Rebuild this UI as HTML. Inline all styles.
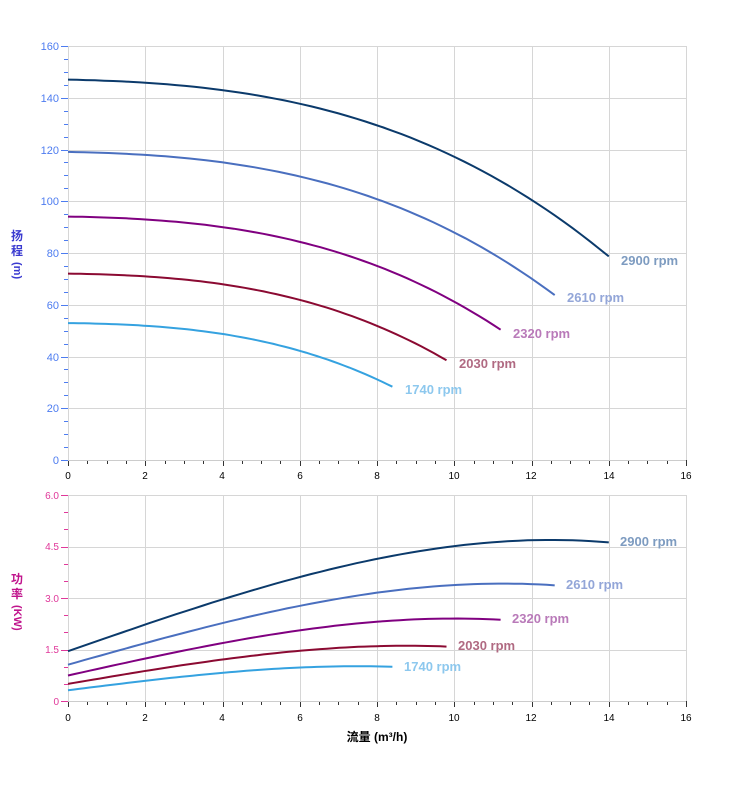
<!DOCTYPE html>
<html><head><meta charset="utf-8"><style>
body{margin:0;background:#fff;width:752px;height:797px;overflow:hidden}
svg{font-family:"Liberation Sans","Noto Sans CJK SC",sans-serif}
</style></head><body>
<svg id="s" width="752" height="797" xmlns="http://www.w3.org/2000/svg">
<g id="grid" stroke="#d6d6d6" stroke-width="1" fill="none"></g>
<g id="ticks"></g>
<g id="curves" fill="none" stroke-width="2"></g>
<g font-size="11" fill="#4d7cf0" text-anchor="end">
<text x="59" y="50">160</text><text x="59" y="102">140</text><text x="59" y="154">120</text><text x="59" y="205">100</text><text x="59" y="257">80</text><text x="59" y="309">60</text><text x="59" y="361">40</text><text x="59" y="412">20</text><text x="59" y="464">0</text>
</g>
<g font-size="10" fill="#e0389a" text-anchor="end">
<text x="59" y="499">6.0</text><text x="59" y="550">4.5</text><text x="59" y="602">3.0</text><text x="59" y="653">1.5</text><text x="59" y="705">0</text>
</g>
<g font-size="10" fill="#000" text-anchor="middle">
<text x="68" y="479">0</text><text x="145" y="479">2</text><text x="222" y="479">4</text><text x="300" y="479">6</text><text x="377" y="479">8</text><text x="454" y="479">10</text><text x="531" y="479">12</text><text x="609" y="479">14</text><text x="686" y="479">16</text>
<text x="68" y="721">0</text><text x="145" y="721">2</text><text x="222" y="721">4</text><text x="300" y="721">6</text><text x="377" y="721">8</text><text x="454" y="721">10</text><text x="531" y="721">12</text><text x="609" y="721">14</text><text x="686" y="721">16</text>
</g>
<g font-size="12" font-weight="bold" fill="#3a3ad0">
<text x="11" y="240">扬</text><text x="11" y="255">程</text>
<text transform="translate(14,262) rotate(90)" font-size="11">(m)</text>
</g>
<g font-size="12" font-weight="bold" fill="#c0148c">
<text x="11" y="583">功</text><text x="11" y="598">率</text>
<text transform="translate(14,605) rotate(90)" font-size="11">(KW)</text>
</g>
<text x="377" y="741" font-size="12" font-weight="bold" text-anchor="middle">流量 (m³/h)</text>
<g font-size="13" font-weight="bold">
<text x="621" y="265" fill="#7d9bc0">2900 rpm</text>
<text x="567" y="302" fill="#93a6d8">2610 rpm</text>
<text x="513" y="338" fill="#b97ab9">2320 rpm</text>
<text x="459" y="368" fill="#b06a82">2030 rpm</text>
<text x="405" y="394" fill="#8dc8ee">1740 rpm</text>
<text x="620" y="546" fill="#7d9bc0">2900 rpm</text>
<text x="566" y="589" fill="#93a6d8">2610 rpm</text>
<text x="512" y="623" fill="#b97ab9">2320 rpm</text>
<text x="458" y="650" fill="#b06a82">2030 rpm</text>
<text x="404" y="671" fill="#8dc8ee">1740 rpm</text>
</g>
</svg>
<script>
var X=q=>68+q*38.625, YT=h=>460-h*2.5875, YB=p=>701-p*34.333;
var g=document.getElementById('grid'),t=document.getElementById('ticks'),c=document.getElementById('curves');
var ns='http://www.w3.org/2000/svg';
function L(p,x1,y1,x2,y2,col,w){var e=document.createElementNS(ns,'line');e.setAttribute('x1',x1);e.setAttribute('y1',y1);e.setAttribute('x2',x2);e.setAttribute('y2',y2);if(col)e.setAttribute('stroke',col);e.setAttribute('stroke-width',w||1);p.appendChild(e);}
for(var i=0;i<=8;i++){var x=Math.round(X(2*i))+.5;L(g,x,46,x,460);L(g,x,495,x,701);}
for(var i=0;i<=8;i++){var y=Math.round(YT(20*i))+.5;L(g,68,y,686,y);}
for(var i=0;i<=4;i++){var y=Math.round(YB(1.5*i))+.5;L(g,68,y,686,y);}
for(var i=0;i<=32;i++){var x=Math.round(X(i/2))+.5,m=i%4==0;L(t,x,460,x,m?466:464,'#333');L(t,x,701,x,m?707:705,'#333');}
for(var i=0;i<=32;i++){var y=Math.round(YT(5*i))+.5;L(t,i%4==0?61:64,y,68,y,'#4d7cf0');}
for(var i=0;i<=12;i++){var y=Math.round(YB(0.5*i))+.5;L(t,i%3==0?61:64,y,68,y,'#e0389a');}
L(t,68,460.5,686,460.5,'#ccc');L(t,68,701.5,686,701.5,'#ccc');
var H=q=>147-0.3*q-0.12*q*q-0.0148*q*q*q, P=q=>1.45+0.393*q-0.00071*q*q-0.000799*q*q*q;
var sp=[[1,'#0b3a6b'],[0.9,'#4a6fbf'],[0.8,'#800080'],[0.7,'#8b0a32'],[0.6,'#35a2e0']];
sp.forEach(function(s){var r=s[0],d1='',d2='';for(var k=0;k<=60;k++){var q=14*r*k/60,qq=q/r;d1+=(k?'L':'M')+X(q).toFixed(1)+' '+YT(r*r*H(qq)).toFixed(1);d2+=(k?'L':'M')+X(q).toFixed(1)+' '+YB(r*r*r*P(qq)).toFixed(1);}
[d1,d2].forEach(function(d){var e=document.createElementNS(ns,'path');e.setAttribute('d',d);e.setAttribute('stroke',s[1]);c.appendChild(e);});});
</script>
</body></html>
